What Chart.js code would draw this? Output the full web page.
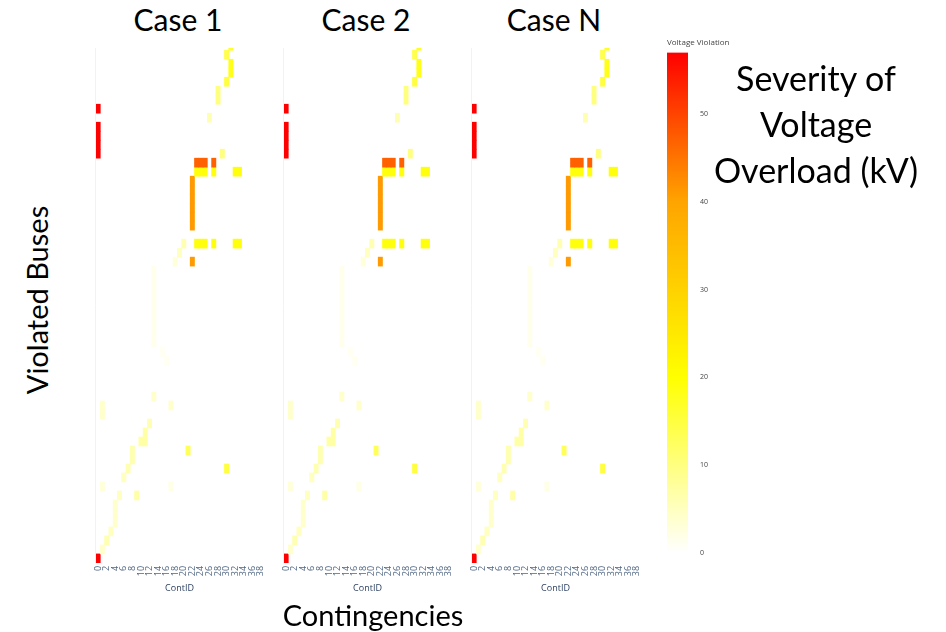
<!DOCTYPE html>
<html>
<head>
<meta charset="utf-8">
<script src="https://cdn.jsdelivr.net/npm/chart.js@4.4.1/dist/chart.umd.min.js"></script>
<style>
    body { margin: 0; width: 946px; height: 632px; position: relative; overflow: hidden; background: #fff; font-family: Lato, "Open Sans", sans-serif; color: #000; }
    .panel { position: absolute; top: 40px; width: 173px; height: 555px; }
    .case-title { position: absolute; top: 4px; width: 200px; text-align: center; font-size: 30px; line-height: 30px; }
    #colorbar-box { position: absolute; left: 667px; top: 34px; width: 90px; height: 527px; }
    .big { position: absolute; line-height: 46px; text-align: center; white-space: nowrap; }
</style>
</head>
<body>
<div class="case-title" style="left:78px">Case 1</div>
<div class="case-title" style="left:266px">Case 2</div>
<div class="case-title" style="left:454px">Case N</div>

<div class="panel" style="left:93px"><canvas id="case1"></canvas></div>
<div class="panel" style="left:281px"><canvas id="case2"></canvas></div>
<div class="panel" style="left:469px"><canvas id="caseN"></canvas></div>
<div id="colorbar-box"><canvas id="colorbar"></canvas></div>

<div class="big" style="left:696px; top:55px; width:240px; font-size:34px">Severity of<br>Voltage<br>Overload (kV)</div>
<div class="big" style="left:-83px; top:277px; width:240px; font-size:29px; transform:rotate(-90deg)">Violated Buses</div>
<div class="big" style="left:253px; top:592px; width:240px; font-size:29px">Contingencies</div>

<script>
"use strict";

const caseIds = ["case1", "case2", "caseN"];
const contIds = [0, 1, 2, 3, 4, 5, 6, 7, 8, 9, 10, 11, 12, 13, 14, 15, 16, 17, 18, 19,
    20, 21, 22, 23, 24, 25, 26, 27, 28, 29, 30, 31, 32, 33, 34, 35, 36, 37, 38];
const colorTicks = [0, 10, 20, 30, 40, 50];
const kvMax = 57;
const busTop = 56.75;

// [ContID, violated bus row (0 = bottom), violation in kV]
const case1Violations = [
    [0, 0, 57],
    [1, 1, 4], [2, 2, 6], [3, 3, 5],
    [4, 4, 4], [4, 5, 4], [4, 6, 4],
    [5, 7, 5], [9, 7, 7],
    [1, 8, 3], [17, 8, 2],
    [6, 9, 5],
    [7, 10, 6], [30, 10, 15],
    [8, 11, 6], [8, 12, 6], [21, 12, 13],
    [10, 13, 7], [11, 13, 7],
    [11, 14, 7],
    [12, 15, 6],
    [1, 16, 4], [1, 17, 4], [17, 17, 4],
    [13, 18, 4],
    [16, 22, 1], [15, 23, 1],
    [13, 24, 1.5], [13, 25, 1.5], [13, 26, 1.5], [13, 27, 1.5], [13, 28, 1.5],
    [13, 29, 1.5], [13, 30, 1.5], [13, 31, 1.5], [13, 32, 1.5],
    [18, 33, 3], [22, 33, 41],
    [19, 34, 5],
    [20, 35, 6], [23, 35, 19], [24, 35, 19], [25, 35, 19], [27, 35, 19], [32, 35, 19], [33, 35, 19],
    [22, 37, 41], [22, 38, 41], [22, 39, 41], [22, 40, 41], [22, 41, 41], [22, 42, 41],
    [23, 43, 19], [24, 43, 19], [25, 43, 19], [27, 43, 19], [32, 43, 19], [33, 43, 19],
    [23, 44, 47], [24, 44, 47], [25, 44, 47], [27, 44, 47],
    [0, 45, 57], [29, 45, 10],
    [0, 46, 57], [0, 47, 57], [0, 48, 57],
    [26, 49, 6],
    [0, 50, 57],
    [28, 51, 10], [28, 52, 10],
    [30, 53, 15],
    [31, 54, 18], [31, 55, 18],
    [30, 56, 14],
    [31, 57, 17]
];
// the other cases show the same pattern
const case2Violations = case1Violations;
const caseNViolations = case1Violations;

const colorStops = [
    [0, [255, 255, 255]],
    [0.35, [255, 255, 0]],
    [0.7, [255, 165, 0]],
    [1, [255, 0, 0]]
];

function colorFor(kv)
{
    const t = Math.min(Math.max(kv / kvMax, 0), 1);
    for (let i = 1; i < colorStops.length; i++) {
        const [t1, c1] = colorStops[i];
        const [t0, c0] = colorStops[i - 1];
        if (t <= t1) {
            const f = (t - t0) / (t1 - t0);
            const c = c0.map((v, k) => Math.round(v + (c1[k] - v) * f));
            return `rgb(${c[0]},${c[1]},${c[2]})`;
        }
    }
    return "rgb(255,0,0)";
}

function buildHeatmap(canvasId, violations)
{
    new Chart(canvasId, {
        type: "bar",
        data: {
            labels: contIds,
            datasets: [{
                data: violations.map(v => ({x: v[0], y: [v[1] - 0.5, v[1] + 0.5], kv: v[2]})),
                backgroundColor: ctx => colorFor(ctx.raw ? ctx.raw.kv : 0),
                borderWidth: 0,
                barPercentage: 1,
                categoryPercentage: 1
            }]
        },
        options: {
            animation: false,
            responsive: true,
            maintainAspectRatio: false,
            layout: {padding: {left: 3, right: 3, top: 8, bottom: 1}},
            plugins: {
                legend: {display: false},
                tooltip: {enabled: false}
            },
            scales: {
                x: {
                    grid: {
                        drawTicks: false,
                        color: ctx => (ctx.index === 0 || ctx.index === contIds.length) ? "#f2f2f2" : "rgba(0,0,0,0)"
                    },
                    border: {display: false},
                    // rotated labels must not shrink the plot area
                    afterFit: scale => { scale.paddingLeft = 0; scale.paddingRight = 0; },
                    ticks: {
                        autoSkip: false,
                        minRotation: 90,
                        maxRotation: 90,
                        padding: 3,
                        color: "#506784",
                        font: {family: "Open Sans", size: 9},
                        callback: (val, i) => i % 2 === 0 ? String(contIds[i]) : ""
                    },
                    title: {
                        display: true,
                        text: "ContID",
                        color: "#2a3f5f",
                        font: {family: "Open Sans", size: 9},
                        padding: {top: 4, bottom: 0}
                    }
                },
                y: {
                    type: "linear",
                    display: false,
                    min: -0.5,
                    max: busTop
                }
            }
        }
    });
}

function buildColorbar()
{
    new Chart("colorbar", {
        type: "bar",
        data: {
            labels: [""],
            datasets: [{
                data: [[0, kvMax]],
                borderWidth: 0,
                barPercentage: 1,
                categoryPercentage: 1,
                backgroundColor: ctx => {
                    const chart = ctx.chart;
                    if (!chart.chartArea)
                        return "rgba(0,0,0,0)";
                    const y = chart.scales.y;
                    const g = chart.ctx.createLinearGradient(0, y.getPixelForValue(0), 0, y.getPixelForValue(kvMax));
                    for (const [t, c] of colorStops)
                        g.addColorStop(t, `rgb(${c[0]},${c[1]},${c[2]})`);
                    return g;
                }
            }]
        },
        options: {
            animation: false,
            responsive: true,
            maintainAspectRatio: false,
            layout: {padding: 0},
            plugins: {
                legend: {display: false},
                tooltip: {enabled: false},
                title: {
                    display: true,
                    text: "Voltage Violation",
                    align: "start",
                    color: "#444",
                    font: {family: "Open Sans", size: 8, weight: "normal"},
                    padding: {top: 4, bottom: 5}
                }
            },
            scales: {
                x: {display: false},
                y: {
                    position: "right",
                    min: 0,
                    max: kvMax,
                    grid: {display: false},
                    border: {display: false},
                    afterFit: scale => { scale.width = 69; },
                    ticks: {
                        stepSize: 10,
                        padding: 4,
                        color: "#444",
                        font: {family: "Open Sans", size: 7},
                        callback: v => colorTicks.includes(v) ? String(v) : null
                    }
                }
            }
        }
    });
}

buildHeatmap(caseIds[0], case1Violations);
buildHeatmap(caseIds[1], case2Violations);
buildHeatmap(caseIds[2], caseNViolations);
buildColorbar();
</script>
</body>
</html>
